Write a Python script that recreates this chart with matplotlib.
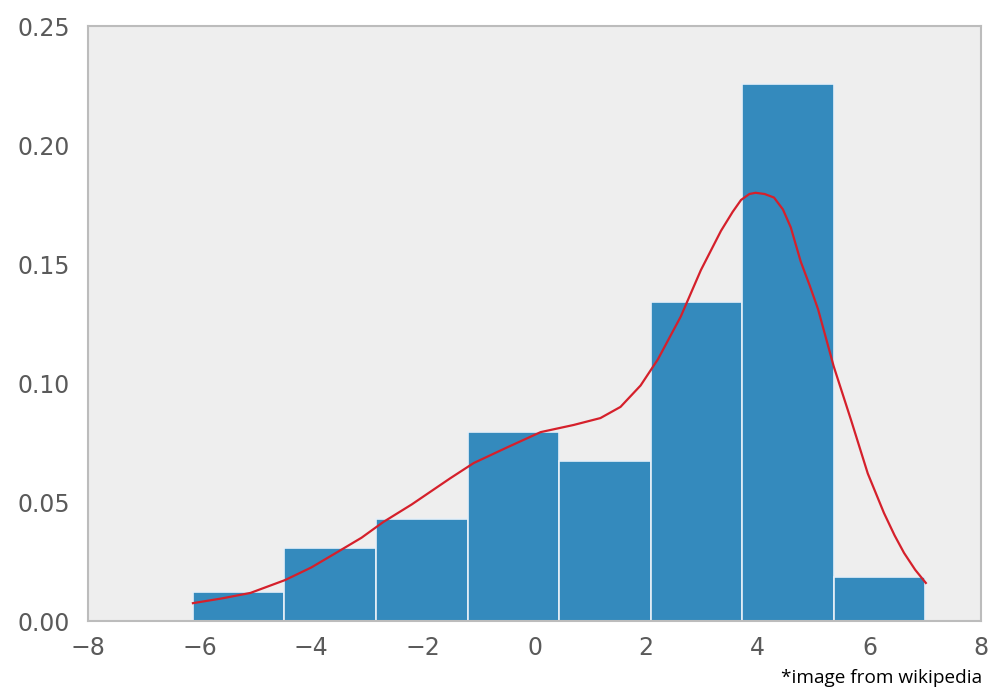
import numpy as np
import matplotlib.pyplot as plt

# histogram: bin edges and counts of the 100 samples
bin_edges = [-6.12, -4.48, -2.84, -1.20, 0.44, 2.08, 3.72, 5.36, 7.00]
counts = [2, 5, 7, 13, 11, 22, 37, 3]

# kernel density estimate, sampled along x
kde_x = [-6.12, -5.6, -5.09, -4.47, -4.0, -3.53, -3.1, -2.71, -2.2, -1.51,
         -1.09, -0.48, 0.11, 0.70, 1.18, 1.54, 1.90, 2.21, 2.62, 2.98, 3.34,
         3.55, 3.70, 3.85, 3.96, 4.12, 4.29, 4.45, 4.59, 4.77, 4.93, 5.08,
         5.22, 5.36, 5.67, 5.97, 6.26, 6.45, 6.62, 6.82, 7.01]
kde_y = [0.0075, 0.0095, 0.0118, 0.0172, 0.0225, 0.029, 0.035, 0.0416, 0.049,
         0.060, 0.0664, 0.0731, 0.0794, 0.0824, 0.0853, 0.090, 0.099, 0.110,
         0.128, 0.1475, 0.164, 0.172, 0.177, 0.1795, 0.180, 0.1795, 0.178,
         0.173, 0.1655, 0.151, 0.141, 0.131, 0.119, 0.107, 0.0845, 0.062,
         0.0454, 0.036, 0.0286, 0.0215, 0.016]

edges = np.array(bin_edges)
widths = np.diff(edges)
density = np.array(counts) / (np.sum(counts) * widths)

fig = plt.figure(figsize=(9.92, 6.91), dpi=100, facecolor='w')
ax = fig.add_axes([0.0887, 0.1013, 0.9003, 0.8607], facecolor='#eeeeee')

ax.bar(edges[:-1], density, width=widths, align='edge',
       color='#348abd', edgecolor='#e6eff7', linewidth=1.2, zorder=2)
ax.plot(kde_x, kde_y, color='#d5202b', lw=1.6, zorder=3,
        solid_joinstyle='round')

ax.set_xlim(-8, 8)
ax.set_ylim(0, 0.25)
ax.set_xticks(np.arange(-8, 9, 2))
ax.set_yticks(np.arange(0, 0.26, 0.05))
ax.yaxis.set_major_formatter(plt.FormatStrFormatter('%.2f'))
ax.tick_params(length=0, labelsize=17, labelcolor='#5a5a5a')
ax.tick_params(axis='x', pad=11)
ax.tick_params(axis='y', pad=13)
for spine in ('top', 'right', 'bottom', 'left'):
    ax.spines[spine].set_color('#bcbcbc')
    ax.spines[spine].set_linewidth(1.5)

fig.text(0.99, 0.006, '*image from wikipedia', ha='right', va='bottom',
         fontsize=13.7, family='Open Sans', color='black')

fig.savefig('out.png', dpi=100)
